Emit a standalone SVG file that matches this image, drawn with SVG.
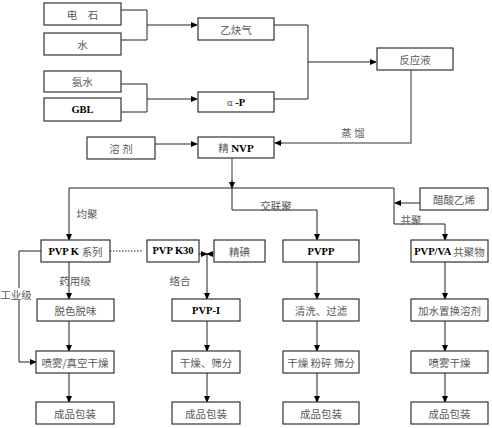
<svg xmlns="http://www.w3.org/2000/svg" width="492" height="428" viewBox="0 0 492 428">
<defs>
<marker id="ah" viewBox="0 0 8 8" refX="7" refY="4" markerWidth="7" markerHeight="7" markerUnits="userSpaceOnUse" orient="auto">
<path d="M0,0.5 L8,4 L0,7.5 z" fill="#000"/>
</marker>
<style>
.b{fill:#fff;stroke:#333;stroke-width:1.2}
.t{font-family:"Noto Sans CJK SC","Liberation Serif",sans-serif;font-size:10.5px;fill:#5a5a5a;text-anchor:middle;dominant-baseline:central}
.l{font-family:"Liberation Serif","Noto Sans CJK SC",serif;font-weight:bold;fill:#000}
.c{fill:none;stroke:#222;stroke-width:1}
.g{fill:none;stroke:#777;stroke-width:1.5}
.a{marker-end:url(#ah)}
</style>
</defs>
<rect width="492" height="428" fill="#fff"/>
<g id="connectors">
<path class="c" d="M121,10 H147 V40 H121"/>
<path class="c a" d="M147,25 H197"/>
<path class="c" d="M121,84 H147 V112 H121"/>
<path class="c a" d="M147,99 H197"/>
<path class="c" d="M274,25 H308 V99 H274"/>
<path class="c a" d="M308,62 H376"/>
<path class="g" d="M411,70 V143 H280"/>
<path class="c a" d="M282,143 H275"/>
<path class="c a" d="M155,144 H197"/>
<path class="g" d="M232,158 V182"/>
<path class="c a" d="M232,180 V188"/>
<path class="c" d="M69,188 H394 V224 H445"/>
<path class="c a" d="M69,188 V240"/>
<path class="c" d="M232,188 V210 H317"/>
<path class="c a" d="M317,210 V240"/>
<path class="c a" d="M445,224 V240"/>
<path class="c a" d="M420,203 H395"/>
<path class="c" d="M41,251 H19 V362"/>
<path class="c a" d="M19,362 H36"/>
<path class="c" d="M110,251 H143" stroke-dasharray="1.5,1.5"/>
<path class="c a" d="M199,254 H207"/>
<path class="c a" d="M214,254 H207"/>
<path class="c a" d="M207,254 V299"/>
<path class="c a" d="M69,262 V299"/>
<path class="c a" d="M69,321 V351"/>
<path class="c a" d="M69,373 V402"/>
<path class="c a" d="M207,321 V351"/>
<path class="c a" d="M207,373 V402"/>
<path class="c a" d="M317,262 V299"/>
<path class="c a" d="M317,321 V351"/>
<path class="c a" d="M317,373 V402"/>
<path class="c a" d="M445,262 V299"/>
<path class="c a" d="M445,321 V351"/>
<path class="c a" d="M445,373 V402"/>
</g>
<g id="labels">
<text class="t" x="353" y="132">蒸 馏</text>
<text class="t" x="87" y="213">均聚</text>
<text class="t" x="276" y="205">交联聚</text>
<text class="t" x="411" y="219">共聚</text>
<text class="t" x="75" y="280">药用级</text>
<rect x="1" y="288" width="30" height="12" fill="#fff"/>
<text class="t" x="16" y="294" font-size="10">工业级</text>
<text class="t" x="180" y="280">络合</text>
</g>
<g id="n-dianshi"><rect class="b" x="44" y="3" width="77" height="22"/><text class="t" x="82.5" y="14">电　石</text></g>
<g id="n-shui"><rect class="b" x="44" y="33" width="77" height="22"/><text class="t" x="82.5" y="44">水</text></g>
<g id="n-anshui"><rect class="b" x="44" y="71" width="77" height="21"/><text class="t" x="82.5" y="81.5">氨水</text></g>
<g id="n-gbl"><rect class="b" x="44" y="98" width="77" height="23"/><text class="t l" x="82.5" y="109.5" font-size="11">GBL</text></g>
<g id="n-yiquemqi"><rect class="b" x="198" y="18" width="76" height="22"/><text class="t" x="236" y="29">乙炔气</text></g>
<g id="n-alphap"><rect class="b" x="198" y="92" width="76" height="20"/><text class="t" x="236" y="102"><tspan fill="#555" font-size="9">α</tspan><tspan class="l" font-size="10.5"> -P</tspan></text></g>
<g id="n-fanyingye"><rect class="b" x="377" y="48" width="76" height="22"/><text class="t" x="415" y="59">反应液</text></g>
<g id="n-rongji"><rect class="b" x="87" y="137" width="68" height="22"/><text class="t" x="121" y="148">溶 剂</text></g>
<g id="n-nvp"><rect class="b" x="198" y="137" width="76" height="21"/><text class="t" x="236" y="147.5">精 <tspan class="l" font-size="11">NVP</tspan></text></g>
<g id="n-cusuan"><rect class="b" x="420" y="188" width="68" height="22"/><text class="t" x="454" y="199">醋酸乙烯</text></g>
<g id="n-pvpk"><rect class="b" x="41" y="240" width="69" height="22"/><text class="t" x="75.5" y="251"><tspan class="l" font-size="10.5">PVP K </tspan>系列</text></g>
<g id="n-k30"><rect class="b" x="147" y="240" width="52" height="22"/><text class="t l" x="173" y="250" font-size="9.5">PVP K30</text></g>
<g id="n-jingdian"><rect class="b" x="214" y="240" width="51" height="22"/><text class="t" x="239.5" y="251">精碘</text></g>
<g id="n-pvpp"><rect class="b" x="283" y="240" width="76" height="22"/><text class="t l" x="321" y="251" font-size="10">PVPP</text></g>
<g id="n-pvpva"><rect class="b" x="411" y="240" width="77" height="22"/><text class="t" x="449.5" y="251" font-size="9.5"><tspan class="l">PVP/VA </tspan>共聚物</text></g>
<g id="n-tuose"><rect class="b" x="37" y="299" width="77" height="22"/><text class="t" x="75.5" y="310">脱色脱味</text></g>
<g id="n-pvpi"><rect class="b" x="172" y="299" width="68" height="22"/><text class="t l" x="206" y="310" font-size="10.5">PVP-I</text></g>
<g id="n-qingxi"><rect class="b" x="283" y="299" width="76" height="22"/><text class="t" x="321" y="310">清洗、过滤</text></g>
<g id="n-jiashui"><rect class="b" x="411" y="299" width="77" height="22"/><text class="t" x="449.5" y="310">加水置换溶剂</text></g>
<g id="n-penwu1"><rect class="b" x="36" y="351" width="78" height="22"/><text class="t" x="75" y="362">喷雾/真空干燥</text></g>
<g id="n-ganzao1"><rect class="b" x="172" y="351" width="68" height="22"/><text class="t" x="206" y="362">干燥、筛分</text></g>
<g id="n-ganzao2"><rect class="b" x="283" y="351" width="76" height="22"/><text class="t" x="321" y="362" font-size="9">干燥  粉碎  筛分</text></g>
<g id="n-penwu2"><rect class="b" x="411" y="351" width="77" height="22"/><text class="t" x="449.5" y="362">喷雾干燥</text></g>
<g id="n-bz1"><rect class="b" x="36" y="402" width="78" height="22"/><text class="t" x="75" y="413">成品包装</text></g>
<g id="n-bz2"><rect class="b" x="172" y="402" width="68" height="22"/><text class="t" x="206" y="413">成品包装</text></g>
<g id="n-bz3"><rect class="b" x="283" y="402" width="76" height="22"/><text class="t" x="321" y="413">成品包装</text></g>
<g id="n-bz4"><rect class="b" x="411" y="402" width="77" height="22"/><text class="t" x="449.5" y="413">成品包装</text></g>
</svg>
